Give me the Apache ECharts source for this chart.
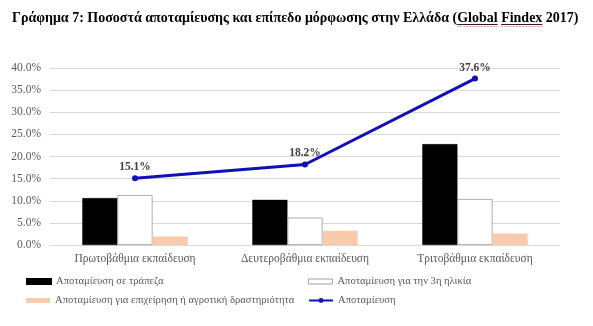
<!DOCTYPE html>
<html><head><meta charset="utf-8">
<script src="https://cdn.jsdelivr.net/npm/echarts@6/dist/echarts.min.js"></script>
<style>html,body{margin:0;padding:0;background:#fff}#c{width:593px;height:326px}</style>
</head><body><div id="c"></div>
<script>
const categories = ['Πρωτοβάθμια εκπαίδευση', 'Δευτεροβάθμια εκπαίδευση', 'Τριτοβάθμια εκπαίδευση'];
const bankSavings = [10.6, 10.2, 22.8];
const oldAgeSavings = [11.3, 6.2, 10.4];
const businessSavings = [1.9, 3.2, 2.6];
const totalSavings = [15.1, 18.2, 37.6];
const seriesNames = ['Αποταμίευση σε τράπεζα', 'Αποταμίευση για την 3η ηλικία', 'Αποταμίευση για επιχείρηση ή αγροτική δραστηριότητα', 'Αποταμίευση'];
const titlePrefix = 'Γράφημα 7: Ποσοστά αποταμίευσης και επίπεδο μόρφωσης στην Ελλάδα (';
const titleWords = ['Global', 'Findex'];
const titleSuffix = ' 2017)';
const titleText = titlePrefix + titleWords.join(' ') + titleSuffix;

const FONT = 'Liberation Serif';
const TITLE_FONT = 'bold 14px "Liberation Serif"';
const TITLE_LEFT = 12, TITLE_TOP = 11;

// underline positions for the title words (decoration only)
const ctx = document.createElement('canvas').getContext('2d');
ctx.font = TITLE_FONT;
const underlines = [];
let pre = titlePrefix;
titleWords.forEach((w, i) => {
  const x0 = TITLE_LEFT + ctx.measureText(pre).width;
  const x1 = x0 + ctx.measureText(w).width;
  underlines.push({type: 'line', shape: {x1: x0, y1: TITLE_TOP + 13.5, x2: x1, y2: TITLE_TOP + 13.5},
    style: {stroke: '#222', lineWidth: 1}, silent: true});
  underlines.push({type: 'line', shape: {x1: x0, y1: TITLE_TOP + 15.5, x2: x1, y2: TITLE_TOP + 15.5},
    style: {stroke: '#e3a0a0', lineWidth: 1, lineDash: [2, 1]}, silent: true});
  pre += w + ' ';
});

const chart = echarts.init(document.getElementById('c'), null, {renderer: 'canvas'});
const legendText = {fontFamily: FONT, fontSize: 10.6, color: '#595959'};
function legendAt(left, top, name, extra) {
  return Object.assign({
    left: left, top: top, padding: 0,
    itemWidth: 24, itemHeight: 5, itemGap: 3,
    textStyle: legendText,
    data: [{name: name, icon: 'rect'}]
  }, extra || {});
}
chart.setOption({
  animation: false,
  textStyle: {fontFamily: FONT},
  title: {
    text: titleText, left: TITLE_LEFT, top: TITLE_TOP, padding: 0,
    textStyle: {fontFamily: FONT, fontSize: 14, fontWeight: 'bold', color: '#000', lineHeight: 14}
  },
  graphic: underlines,
  legend: [
    legendAt(26, 276, seriesNames[0]),
    legendAt(308, 276, seriesNames[1], {itemStyle: {borderWidth: 0.8, borderColor: '#8c8c8c'}}),
    legendAt(26, 295, seriesNames[2]),
    legendAt(308, 295, seriesNames[3], {itemHeight: 6, data: [{name: seriesNames[3]}]})
  ],
  grid: {left: 50, right: 33, top: 68, bottom: 81, containLabel: false},
  xAxis: {
    type: 'category', data: categories,
    axisLine: {lineStyle: {color: '#d9d9d9'}},
    axisTick: {show: false},
    axisLabel: {fontFamily: FONT, fontSize: 11.5, color: '#595959', margin: 8}
  },
  yAxis: {
    type: 'value', min: 0, max: 40, interval: 5,
    axisLine: {show: false}, axisTick: {show: false},
    splitLine: {lineStyle: {color: '#d9d9d9'}},
    axisLabel: {fontFamily: FONT, fontSize: 11.5, color: '#595959', margin: 9,
      formatter: v => v.toFixed(1) + '%'}
  },
  series: [
    {name: seriesNames[0], type: 'bar', data: bankSavings, barGap: '0%', barCategoryGap: '38%',
      itemStyle: {color: '#000', borderColor: '#000', borderWidth: 0.5}},
    {name: seriesNames[1], type: 'bar', data: oldAgeSavings, barGap: '0%', barCategoryGap: '38%',
      itemStyle: {color: '#fff', borderColor: '#9a9a9a', borderWidth: 0.8}},
    {name: seriesNames[2], type: 'bar', data: businessSavings, barGap: '0%', barCategoryGap: '38%',
      itemStyle: {color: '#f8cbad'}},
    {name: seriesNames[3], type: 'line', data: totalSavings, symbol: 'circle', symbolSize: 6,
      lineStyle: {color: '#1010b8', width: 3}, itemStyle: {color: '#1010b8'},
      label: {show: true, position: 'top', distance: 2, fontFamily: FONT, fontSize: 11.5, fontWeight: 'bold',
        color: '#404040', formatter: p => p.value.toFixed(1) + '%'}}
  ]
});
</script></body></html>
